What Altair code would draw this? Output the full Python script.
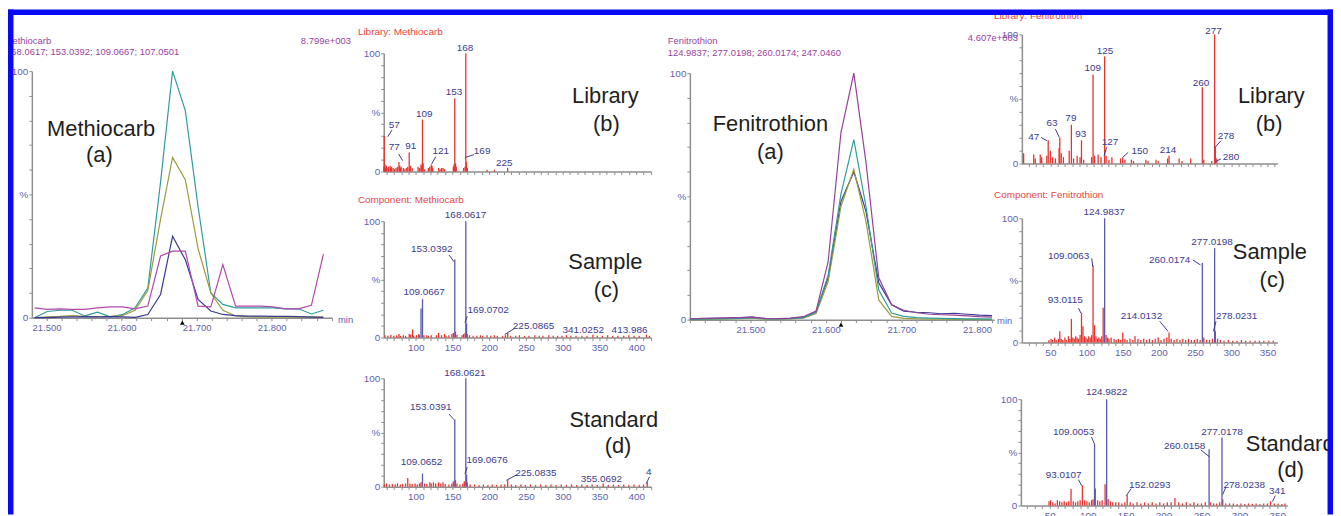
import altair as alt
import pandas as pd

# ============================================================ DATA
# Extracted-ion chromatograms, relative intensity (%)
MC_TIME = [21.484, 21.501, 21.518, 21.534, 21.551, 21.568, 21.585, 21.601, 21.618, 21.635,
           21.652, 21.668, 21.685, 21.702, 21.719, 21.735, 21.752, 21.769, 21.786, 21.802,
           21.819, 21.836, 21.853, 21.869]
MC_168 = [0, 2.5, 3, 3, 0.7, 2.2, 0.3, 1.2, 4, 12, 55, 100, 84, 45, 10, 5.4, 4, 4, 4, 4, 3.6, 3.6, 1.5, 3]
MC_153 = [0, 0.3, 0.5, 0.8, 0.5, 0.3, 0.5, 0.8, 3, 11, 40, 65, 56, 28, 10, 3, 0.7, 0.3, 0.2, 0.2, 0.2, 0.2, 0.3, 0.2]
MC_109 = [0, 0, 0.2, 0.3, 0.4, 0.3, 0.4, 0.3, 0.1, 1.3, 9.4, 33, 23.5, 7.4, 2.7, 1.3, 0.8, 0.6, 0.6, 0.5, 0.5, 0.4, 0.2, 0.1]
MC_107 = [4, 3.4, 3.6, 3.4, 3.4, 4, 4.4, 4.4, 3.6, 4.7, 25, 27, 27, 4.7, 4.4, 21.5, 4.7, 4.7, 4.7, 4.4, 3.6, 3.6, 5, 25.8]
MC_RT = 21.681

FC_TIME = [21.420, 21.437, 21.453, 21.470, 21.487, 21.503, 21.520, 21.537, 21.553, 21.570,
           21.587, 21.603, 21.620, 21.637, 21.653, 21.670, 21.687, 21.703, 21.720, 21.737,
           21.753, 21.770, 21.787, 21.803, 21.820]
FC_125 = [0.3, 0.5, 0.6, 0.7, 0.8, 1.0, 0.5, 0.4, 0.6, 1.2, 3.5, 23.5, 76, 100, 64, 17, 6, 3.8, 2.8, 2.2, 2.0, 1.8, 1.5, 1.2, 1.0]
FC_277 = [0.1, 0.2, 0.3, 0.4, 0.5, 0.8, 0.3, 0.3, 0.4, 0.8, 3, 18, 51, 73, 46, 12, 2.7, 1.3, 0.8, 0.6, 0.5, 0.4, 0.3, 0.3, 0.2]
FC_260 = [0, 0.1, 0.2, 0.3, 0.4, 0.6, 0.2, 0.2, 0.3, 0.6, 2.5, 15.4, 46, 61, 40, 8, 1.3, 0.5, 0.3, 0.2, 0.2, 0.1, 0.1, 0.1, 0.1]
FC_247 = [0.2, 0.4, 0.5, 0.6, 0.8, 1.0, 0.4, 0.4, 0.5, 0.9, 3.2, 17, 48, 60, 44, 15, 6, 3.4, 3, 2.8, 2.4, 2.6, 2.2, 1.8, 1.6]
FC_RT = 21.620

# Mass spectra: (m/z, relative intensity %, kind)  kind r = unmatched (red), b = matched (blue)
ML_PEAKS = [(56.5, 4, "r"), (57, 30, "r"), (58, 6, "r"), (59, 3, "r"), (60, 5, "r"), (62, 3, "r"), (63, 4, "r"),
            (65, 5, "r"), (66, 3, "r"), (67, 4, "r"), (69, 3, "r"), (71, 2, "r"), (73, 3, "r"), (75, 4, "r"),
            (77, 8, "r"), (78, 5, "r"), (79, 3, "r"), (80, 4, "r"), (83, 3, "r"), (85, 2, "r"), (87, 3, "r"),
            (89, 4, "r"), (91, 16, "r"), (92, 3, "r"), (93, 5, "r"), (95, 3, "r"), (103, 4, "r"), (105, 3, "r"),
            (107, 6, "r"), (108, 5, "r"), (109, 44, "r"), (110, 7, "r"), (112, 2, "r"), (117, 3, "r"),
            (119, 4, "r"), (121, 6, "r"), (122, 5, "r"), (123, 3, "r"), (131, 3, "r"), (133, 2, "r"),
            (135, 3, "r"), (137, 3, "r"), (139, 2, "r"), (151, 4, "r"), (152, 6, "r"), (153, 62, "r"),
            (154, 7, "r"), (155, 4, "r"), (165, 3, "r"), (167, 4, "r"), (168, 100, "r"), (169, 8, "r"),
            (170, 3, "r"), (197, 1.5, "r"), (207, 1.5, "r"), (225, 3, "r")]

MS_PEAKS = [(58, 2, "r"), (62, 1.5, "r"), (66, 2.5, "r"), (70, 1.5, "r"), (74, 2, "r"), (77, 3, "r"),
            (79, 1.5, "r"), (83, 2, "r"), (86, 1.5, "r"), (91, 3, "r"), (93, 2.5, "r"), (95.5, 7, "r"),
            (97, 1.5, "r"), (101, 2, "r"), (104, 3, "r"), (105, 2, "r"), (107.0501, 25, "b"),
            (109.0667, 33, "b"), (111, 2, "r"), (115, 2, "r"), (117, 1.5, "r"), (121, 2, "r"), (128, 2, "r"),
            (131, 4, "r"), (135, 2, "r"), (139, 3, "r"), (141, 1.5, "r"), (145, 2, "r"), (149, 3, "r"),
            (151, 4, "r"), (153.0392, 67, "b"), (154, 5, "r"), (156, 2.5, "r"), (163, 2, "r"), (165, 3, "r"),
            (167, 4, "r"), (168.0617, 100, "b"), (169.0702, 12, "b"), (170, 3, "r"), (173, 2, "r"),
            (178, 1.5, "r"), (183, 1.5, "r"), (188, 2, "r"), (191, 1.5, "r"), (197, 2, "r"), (202, 1.5, "r"),
            (207, 2, "r"), (211, 1.5, "r"), (218, 1.5, "r"), (222, 2, "r"), (225.0865, 4, "r"), (229, 1.5, "r"),
            (236, 1.5, "r"), (241, 2, "r"), (248, 1.5, "r"), (254, 1.5, "r"), (262, 2, "r"), (268, 1.5, "r"),
            (273, 1.5, "r"), (281, 2, "r"), (287, 1.5, "r"), (293, 1.5, "r"), (299, 1.5, "r"), (305, 2, "r"),
            (311, 1.5, "r"), (318, 1.5, "r"), (326, 1.5, "r"), (333, 1.5, "r"), (341.0252, 2.5, "r"),
            (347, 1.5, "r"), (354, 1.5, "r"), (361, 2, "r"), (368, 1.5, "r"), (375, 1.5, "r"), (383, 1.5, "r"),
            (390, 2, "r"), (397, 1.5, "r"), (404, 1.5, "r"), (413.986, 2.5, "r"), (418, 1.5, "r")]

MD_PEAKS = [(57, 2, "r"), (60, 3, "r"), (64, 2, "r"), (68, 2.5, "r"), (72, 2, "r"), (75, 3, "r"), (79, 2, "r"),
            (82, 2.5, "r"), (86, 3, "r"), (89, 8, "r"), (92, 3, "r"), (95, 2.5, "r"), (99, 3, "r"), (102, 2, "r"),
            (105, 3, "r"), (107, 4, "r"), (109.0652, 12, "b"), (112, 3, "r"), (115, 2.5, "r"), (119, 4, "r"),
            (121, 3, "r"), (124, 4, "r"), (127, 3, "r"), (131, 4, "r"), (134, 3, "r"), (137, 4, "r"),
            (140, 2.5, "r"), (145, 2, "r"), (149, 3, "r"), (151, 5, "r"), (153.0391, 62, "b"), (154, 6, "r"),
            (156, 3, "r"), (160, 2, "r"), (164, 3, "r"), (166, 5, "r"), (168.0621, 100, "b"), (169.0676, 11, "b"),
            (170, 4, "r"), (174, 2, "r"), (180, 2, "r"), (186, 1.5, "r"), (192, 2, "r"), (198, 1.5, "r"),
            (204, 2, "r"), (210, 1.5, "r"), (216, 2, "r"), (221, 2, "r"), (225.0835, 6, "r"), (230, 2, "r"),
            (236, 1.5, "r"), (243, 2, "r"), (249, 1.5, "r"), (256, 2, "r"), (263, 1.5, "r"), (270, 2, "r"),
            (277, 1.5, "r"), (284, 2, "r"), (291, 1.5, "r"), (298, 2, "r"), (305, 1.5, "r"), (312, 2, "r"),
            (319, 1.5, "r"), (326, 2, "r"), (333, 1.5, "r"), (340, 2, "r"), (347, 1.5, "r"), (355.0692, 3, "r"),
            (362, 1.5, "r"), (369, 2, "r"), (376, 1.5, "r"), (383, 2, "r"), (390, 1.5, "r"), (397, 2, "r"),
            (404, 1.5, "r"), (410, 2, "r"), (415, 4, "r")]

FL_PEAKS = [(13, 8, "r"), (27, 7, "r"), (29, 4, "r"), (36, 7, "r"), (38, 5, "r"), (45, 6, "r"), (47, 18, "r"),
            (50, 10, "r"), (53, 5, "r"), (57, 4, "r"), (62, 12, "r"), (63, 20, "r"), (65, 8, "r"), (68, 5, "r"),
            (76, 10, "r"), (79, 30, "r"), (82, 4, "r"), (87, 6, "r"), (91, 5, "r"), (93, 18, "r"), (96, 3, "r"),
            (107, 5, "r"), (109, 69, "r"), (111, 6, "r"), (116, 7, "r"), (120, 5, "r"), (125, 83, "r"),
            (127, 6, "r"), (131, 3, "r"), (135, 5, "r"), (147, 4, "r"), (150, 5, "r"), (153, 3, "r"),
            (162, 3, "r"), (165, 2, "r"), (182, 3, "r"), (185, 2, "r"), (196, 3, "r"), (199, 2, "r"),
            (212, 4, "r"), (214, 6, "r"), (228, 4, "r"), (232, 2, "r"), (244, 4, "r"), (260, 59, "r"),
            (262, 3, "r"), (273, 2, "r"), (277, 100, "r"), (278, 13, "r"), (280, 4, "r")]

FS_PEAKS = [(48, 2, "r"), (51, 3, "r"), (53, 2, "r"), (56, 4, "r"), (58, 2, "r"), (61, 3, "r"), (63, 9, "r"),
            (65, 3, "r"), (67, 2, "r"), (70, 4, "r"), (72, 2, "r"), (75, 5, "r"), (77, 3, "r"), (79, 19, "r"),
            (81, 4, "r"), (83, 3, "r"), (85, 5, "r"), (87, 4, "r"), (89, 3, "r"), (91, 6, "r"),
            (93.0115, 24, "r"), (95, 13, "r"), (97, 5, "r"), (99, 4, "r"), (101, 3, "r"), (103, 5, "r"),
            (105, 4, "r"), (107, 6, "r"), (109.0063, 62, "r"), (111, 14, "r"), (113, 5, "r"), (115, 3, "r"),
            (117, 4, "r"), (119, 3, "r"), (121, 5, "r"), (122.97, 28, "r"), (124.9837, 100, "b"), (127, 6, "r"),
            (129, 4, "r"), (131, 3, "r"), (134, 4, "r"), (138, 3, "r"), (141, 2, "r"), (144, 3, "r"),
            (147, 2, "r"), (150, 8, "r"), (153, 3, "r"), (156, 2, "r"), (160, 3, "r"), (164, 2, "r"),
            (167, 5, "r"), (171, 3, "r"), (175, 2, "r"), (179, 3, "r"), (183, 2, "r"), (187, 3, "r"),
            (191, 2, "r"), (195, 3, "r"), (199, 4, "r"), (203, 2, "r"), (207, 3, "r"), (211, 4, "r"),
            (214.0132, 8, "r"), (217, 3, "r"), (221, 2, "r"), (225, 3, "r"), (229, 2, "r"), (233, 3, "r"),
            (237, 2, "r"), (241, 3, "r"), (245, 2, "r"), (249, 2, "r"), (253, 3, "r"), (257, 2, "r"),
            (260.0174, 64, "b"), (262, 4, "r"), (266, 2, "r"), (270, 2, "r"), (274, 3, "r"), (277.0198, 76, "b"),
            (278.0231, 9, "r"), (281, 3, "r"), (285, 2, "r"), (290, 1.5, "r"), (296, 2, "r"), (302, 1.5, "r"),
            (308, 1.5, "r"), (314, 2, "r"), (320, 1.5, "r"), (326, 1.5, "r"), (333, 1.5, "r"), (339, 1.5, "r"),
            (345, 1.5, "r"), (352, 1.5, "r"), (358, 1.5, "r")]

FD_PEAKS = [(49, 4, "r"), (51, 5, "r"), (54, 3, "r"), (57, 2, "r"), (60, 5, "r"), (63, 4, "r"), (66, 3, "r"),
            (69, 4, "r"), (72, 3, "r"), (75, 4, "r"), (78, 15.6, "r"), (81, 4, "r"), (84, 3, "r"), (87, 4, "r"),
            (90, 5, "r"), (93.0107, 19, "r"), (96, 5, "r"), (99, 4, "r"), (102, 3, "r"), (105, 5, "r"),
            (107, 6, "r"), (109.0053, 58, "b"), (110, 16, "r"), (113, 5, "r"), (116, 4, "r"), (119, 5, "r"),
            (122.9, 20, "r"), (124.9822, 100, "b"), (127, 6, "r"), (130, 4, "r"), (133, 3, "r"), (137, 3, "r"),
            (141, 3, "r"), (145, 2, "r"), (149, 3, "r"), (152.0293, 10, "r"), (156, 3, "r"), (160, 2, "r"),
            (165, 3, "r"), (170, 2, "r"), (175, 3, "r"), (180, 2, "r"), (185, 3, "r"), (190, 2, "r"),
            (195, 3, "r"), (200, 2, "r"), (205, 3, "r"), (210, 3, "r"), (215, 7, "r"), (220, 3, "r"),
            (225, 2, "r"), (230, 3, "r"), (235, 2, "r"), (240, 3, "r"), (245, 2, "r"), (250, 2, "r"),
            (255, 3, "r"), (260.0158, 53, "b"), (262, 3, "r"), (266, 2, "r"), (270, 2, "r"), (274, 3, "r"),
            (277.0178, 64, "b"), (278.0238, 6, "r"), (282, 2, "r"), (287, 2, "r"), (292, 2, "r"), (297, 1.5, "r"),
            (302, 2, "r"), (307, 1.5, "r"), (312, 2, "r"), (317, 1.5, "r"), (322, 2, "r"), (327, 1.5, "r"),
            (332, 2, "r"), (337, 2, "r"), (341, 4, "r"), (346, 2, "r"), (351, 2, "r"), (356, 1.5, "r"),
            (360, 2, "r")]

# ============================================================ LAYOUT / STYLE
W, H = 1333, 508
PAGE = 8  # chart origin sits at page (8, 8)
FONT = "Liberation Sans"
AXIS_GRAY = "#8e8e8e"
AXIS_LABEL = "#5f5fae"
PEAK_LABEL = "#3b3b8c"
RED = "#e8342d"
BLUE = "#5a58b2"
HEAD = "#9a3f9c"
TITLE_RED = "#e4473f"
DARK = "#1e1e1e"
BORDER = "#0a0af2"
TEAL, OLIVE, NAVY, MAGENTA, PURPLE = "#2f9d9b", "#9c9a3e", "#3a3a92", "#b247b0", "#96409a"

# plot rectangles (page px) and x domains
PANELS = {
    "mc": dict(x0=32, x1=334, y0=70, y1=318, dom=(21.4805, 21.8805)),
    "ml": dict(x0=386, x1=655, y0=52, y1=171, dom=(56.3, 420.3)),
    "ms": dict(x0=386, x1=655, y0=221, y1=338, dom=(56.3, 420.3)),
    "md": dict(x0=386, x1=655, y0=379, y1=488, dom=(56.3, 420.3)),
    "fc": dict(x0=694, x1=1000, y0=72, y1=320, dom=(21.420, 21.8226)),
    "fl": dict(x0=1028, x1=1285, y0=33, y1=163, dom=(10.6, 363.7)),
    "fs": dict(x0=1028, x1=1285, y0=218, y1=343, dom=(10.6, 363.7)),
    "fd": dict(x0=1027, x1=1295, y0=400, y1=507, dom=(11.9, 363.1)),
}

# peak label placement (page px): text, centre x, centre y, leader (x1, y1, x2, y2) or None
LABELS = {
    "ml": [("57", 396.7, 124, (394.3, 129.3, 390, 136)), ("77", 396.7, 146.7, (401, 153.3, 405, 160)),
           ("91", 413.3, 145.7, None), ("109", 426.7, 113.3, None),
           ("121", 443.3, 150.7, (438.3, 156, 434.3, 163.3)), ("153", 456.7, 90.7, None),
           ("168", 467.7, 46.7, None), ("169", 485, 150.7, (476.7, 154, 468.3, 156.7)),
           ("225", 507.3, 162.3, None)],
    "ms": [("168.0617", 468.3, 214.3, None), ("153.0392", 434.3, 249, (451.7, 255, 456.7, 261.7)),
           ("109.0667", 426.7, 292.3, None), ("169.0702", 491, 310, (470, 316.7, 467.7, 323.3)),
           ("225.0865", 536.7, 326.7, (518.3, 328.3, 507.7, 335)), ("341.0252", 586.7, 330.7, None),
           ("413.986", 633.3, 330.7, None)],
    "md": [("168.0621", 467.7, 373.3, None), ("153.0391", 433.3, 408.3, (451.7, 415, 456.7, 420.7)),
           ("109.0652", 424, 463.3, None), ("169.0676", 490, 461.7, (470, 468.3, 467.7, 475)),
           ("225.0835", 539, 474, (520, 476, 509.3, 481.7)), ("355.0692", 605, 480, None),
           ("4", 652.7, 473.3, (653.3, 478.3, 650, 485))],
    "fl": [("47", 1040, 136.7, (1047.3, 136.7, 1053.3, 140)), ("63", 1058.3, 121.7, (1061.7, 128.3, 1065.7, 136.7)),
           ("79", 1077.3, 117.3, None), ("93", 1087.3, 133.3, None), ("109", 1099.3, 66.7, None),
           ("125", 1111.7, 49.3, None), ("127", 1116.7, 141, (1113.3, 146.7, 1110.7, 155)),
           ("150", 1146.7, 150, (1135, 151.7, 1129.3, 156.7)), ("214", 1175, 149.3, None),
           ("260", 1208.3, 81.7, None), ("277", 1220.7, 29.3, None),
           ("278", 1233.3, 135, (1228.3, 140, 1222.3, 146.7)), ("280", 1238.3, 156.7, (1228.3, 158.3, 1223.3, 160.7))],
    "fs": [("124.9837", 1110.7, 211.7, None), ("277.0198", 1219.3, 241.7, None),
           ("260.0174", 1176.7, 260, (1200, 260, 1207.7, 265)), ("109.0063", 1075, 256, (1098.3, 258.3, 1099.3, 266.7)),
           ("93.0115", 1071.7, 300.7, (1085, 308.3, 1087.3, 313.3)),
           ("214.0132", 1148.3, 316.7, (1166.7, 321.7, 1175, 331.7)),
           ("278.0231", 1244, 316.7, (1223.3, 321.7, 1220.7, 331.7))],
    "fd": [("124.9822", 1113.3, 393.3, None), ("277.0178", 1229.3, 432.7, None),
           ("260.0158", 1191.7, 447.3, (1208, 451, 1216.7, 458)), ("109.0053", 1080, 433.3, (1098, 438, 1101, 445)),
           ("93.0107", 1070, 476, (1085, 481, 1088, 487)), ("152.0293", 1156.7, 486, (1138, 490, 1133, 497)),
           ("278.0238", 1251.7, 486.7, (1233, 489, 1230, 496)), ("341", 1285, 492.7, (1283, 497, 1280, 503))],
}

# free text (page px): text, x, y, size, color, align
NOTES = [
    ("Methiocarb", 4.5, 39.5, 9.5, HEAD, "left"),
    ("168.0617; 153.0392; 109.0667; 107.0501", 6, 51, 9.5, HEAD, "left"),
    ("8.799e+003", 353, 39.5, 9.5, HEAD, "right"),
    ("Methiocarb", 101.7, 128.5, 22, DARK, "center"),
    ("(a)", 100, 154, 22, DARK, "center"),
    ("min", 340, 320.5, 9.5, AXIS_LABEL, "left"),
    ("Library: Methiocarb", 360, 31, 10, TITLE_RED, "left"),
    ("Library", 609, 95, 22, DARK, "center"),
    ("(b)", 610, 123.5, 22, DARK, "center"),
    ("Component: Methiocarb", 360, 199.5, 10, TITLE_RED, "left"),
    ("Sample", 609, 262, 22, DARK, "center"),
    ("(c)", 610, 290, 22, DARK, "center"),
    ("Standard", 617.5, 421, 22, DARK, "center"),
    ("(d)", 621.7, 447, 22, DARK, "center"),
    ("Fenitrothion", 671.7, 40, 9.5, HEAD, "left"),
    ("124.9837; 277.0198; 260.0174; 247.0460", 671.7, 51.7, 9.5, HEAD, "left"),
    ("Fenitrothion", 775, 123.5, 22, DARK, "center"),
    ("(a)", 775, 151.7, 22, DARK, "center"),
    ("min", 1003, 321.7, 9.5, AXIS_LABEL, "left"),
    ("Library: Fenitrothion", 1000, 14.5, 10, TITLE_RED, "left"),
    ("4.607e+003", 1024, 37, 9.5, HEAD, "right"),
    ("Library", 1279, 95, 22, DARK, "center"),
    ("(b)", 1276.7, 123.5, 22, DARK, "center"),
    ("Component: Fenitrothion", 1000, 195, 10, TITLE_RED, "left"),
    ("Sample", 1277.5, 252, 22, DARK, "center"),
    ("(c)", 1280, 280, 22, DARK, "center"),
    ("Standard", 1253.3, 445, 22, DARK, "left"),
    ("(d)", 1298.3, 471.7, 22, DARK, "center"),
]


# ============================================================ helpers
def xscale(p):
    P = PANELS[p]
    return alt.Scale(domain=list(P["dom"]), range=[P["x0"] - PAGE, P["x1"] - PAGE], nice=False, zero=False)


def yscale(p):
    P = PANELS[p]
    return alt.Scale(domain=[0, 100], range=[P["y1"] - PAGE, P["y0"] - PAGE], nice=False, zero=False)


def to_data(p, px, py):
    P = PANELS[p]
    d0, d1 = P["dom"]
    x = d0 + (px - P["x0"]) / (P["x1"] - P["x0"]) * (d1 - d0)
    y = (P["y1"] - py) / (P["y1"] - P["y0"]) * 100
    return x, y


AX_COMMON = dict(domainColor=AXIS_GRAY, domainWidth=1.5, tickColor=AXIS_GRAY, tickSize=3, tickWidth=1,
                 labelColor=AXIS_LABEL, labelFont=FONT, labelFlush=False, labelOverlap=False,
                 grid=False, title=None)


def yaxis(p):
    P = PANELS[p]
    return alt.Axis(orient="left", offset=-(P["x0"] - PAGE), values=list(range(0, 101, 10)),
                    labelExpr="datum.value == 0 ? '0' : datum.value == 100 ? '100' : datum.value == 50 ? '%' : ''",
                    labelFontSize=10, labelPadding=1, **AX_COMMON)


def chrom_xaxis(p):
    P = PANELS[p]
    d0, d1 = P["dom"]
    vals = [round(21.40 + 0.02 * k, 2) for k in range(30)]
    vals = [v for v in vals if d0 <= v <= d1]
    return alt.Axis(orient="bottom", offset=(P["y1"] - PAGE) - H, values=vals,
                    labelExpr="abs(datum.value*10 - round(datum.value*10)) < 1e-6 ? format(datum.value, '.3f') : ''",
                    labelFontSize=9.5, labelPadding=2, **AX_COMMON)


def spec_xaxis(p, show_labels):
    P = PANELS[p]
    d0, d1 = P["dom"]
    vals = [v for v in range(0, 450, 10) if d0 <= v <= d1]
    return alt.Axis(orient="bottom", offset=(P["y1"] - PAGE) - H, values=vals, labels=show_labels,
                    labelExpr="datum.value % 50 == 0 ? datum.label : ''",
                    labelFontSize=10, labelPadding=2, **AX_COMMON)


def chrom_panel(p, times, series, rt):
    rows = []
    for ion, col, vals in series:
        for t, v in zip(times, vals):
            rows.append(dict(t=t, v=v, ion=ion, col=col))
    df = pd.DataFrame(rows)
    XA, YA = chrom_xaxis(p), yaxis(p)
    lines = alt.Chart(df).mark_line(strokeWidth=1.2).encode(
        x=alt.X("t:Q", scale=xscale(p), axis=XA), y=alt.Y("v:Q", scale=yscale(p), axis=YA),
        color=alt.Color("col:N", scale=None), detail="ion:N")
    mk = alt.Chart(pd.DataFrame({"t": [rt]})).mark_point(
        shape="triangle-up", filled=True, size=22, color="#000000", opacity=1).encode(
        x=alt.X("t:Q", scale=xscale(p), axis=XA), y=alt.value(PANELS[p]["y1"] - PAGE + 5))
    return alt.layer(lines, mk)


def spec_panel(p, peaks, show_xlabels):
    df = pd.DataFrame(peaks, columns=["mz", "inten", "kind"])
    df["ordr"] = df["kind"].map({"r": 0, "b": 1})
    df = df.sort_values(["ordr", "mz"]).reset_index(drop=True)
    df["col"] = df["kind"].map({"r": RED, "b": BLUE})
    XA, YA = spec_xaxis(p, show_xlabels), yaxis(p)
    bars = alt.Chart(df).mark_rule(strokeWidth=1.3).encode(
        x=alt.X("mz:Q", scale=xscale(p), axis=XA), y=alt.Y("inten:Q", scale=yscale(p), axis=YA),
        y2=alt.datum(0), color=alt.Color("col:N", scale=None))
    lab_rows, lead_rows = [], []
    for txt, cx, cy, lead in LABELS[p]:
        x, y = to_data(p, cx, cy)
        lab_rows.append(dict(txt=txt, x=x, y=y))
        if lead is not None:
            a, b = to_data(p, lead[0], lead[1])
            c, d = to_data(p, lead[2], lead[3])
            lead_rows.append(dict(x=a, y=b, x2=c, y2=d))
    texts = alt.Chart(pd.DataFrame(lab_rows)).mark_text(
        font=FONT, fontSize=10, color=PEAK_LABEL, align="center", baseline="middle").encode(
        x=alt.X("x:Q", scale=xscale(p), axis=XA), y=alt.Y("y:Q", scale=yscale(p), axis=YA), text="txt:N")
    layers = [bars, texts]
    if lead_rows:
        leads = alt.Chart(pd.DataFrame(lead_rows)).mark_rule(color=PEAK_LABEL, strokeWidth=1).encode(
            x=alt.X("x:Q", scale=xscale(p), axis=XA), y=alt.Y("y:Q", scale=yscale(p), axis=YA),
            x2="x2:Q", y2="y2:Q")
        layers.append(leads)
    return alt.layer(*layers)


def note(text, px, py, size, color, align):
    return alt.Chart(pd.DataFrame({"n": [0]})).mark_text(
        text=text, font=FONT, fontSize=size, color=color, align=align, baseline="middle").encode(
        x=alt.value(px - PAGE), y=alt.value(py - PAGE))


one = pd.DataFrame({"n": [0]})
border = [
    alt.Chart(one).mark_rule(color=BORDER, strokeWidth=5.5).encode(x=alt.value(0), x2=alt.value(W), y=alt.value(2.75)),
    alt.Chart(one).mark_rule(color=BORDER, strokeWidth=5.5).encode(x=alt.value(2.75), y=alt.value(0), y2=alt.value(H)),
    alt.Chart(one).mark_rule(color=BORDER, strokeWidth=5.5).encode(x=alt.value(W - 2.75), y=alt.value(0), y2=alt.value(H)),
]

layers = [
    chrom_panel("mc", MC_TIME, [("168.0617", TEAL, MC_168), ("153.0392", OLIVE, MC_153),
                                ("109.0667", NAVY, MC_109), ("107.0501", MAGENTA, MC_107)], MC_RT),
    spec_panel("ml", ML_PEAKS, False),
    spec_panel("ms", MS_PEAKS, True),
    spec_panel("md", MD_PEAKS, True),
    chrom_panel("fc", FC_TIME, [("247.0460", NAVY, FC_247), ("260.0174", OLIVE, FC_260),
                                ("277.0198", TEAL, FC_277), ("124.9837", PURPLE, FC_125)], FC_RT),
    spec_panel("fl", FL_PEAKS, False),
    spec_panel("fs", FS_PEAKS, True),
    spec_panel("fd", FD_PEAKS, True),
]
layers += [note(*n) for n in NOTES]
layers += border

chart = alt.layer(*layers).resolve_scale(x="independent", y="independent").resolve_axis(
    x="independent", y="independent").properties(
    width=W, height=H, autosize=alt.AutoSizeParams(type="none"), padding=0, background="white"
).configure_view(stroke=None)

chart.save("out.html", embed_options={"renderer": "svg", "actions": False})
